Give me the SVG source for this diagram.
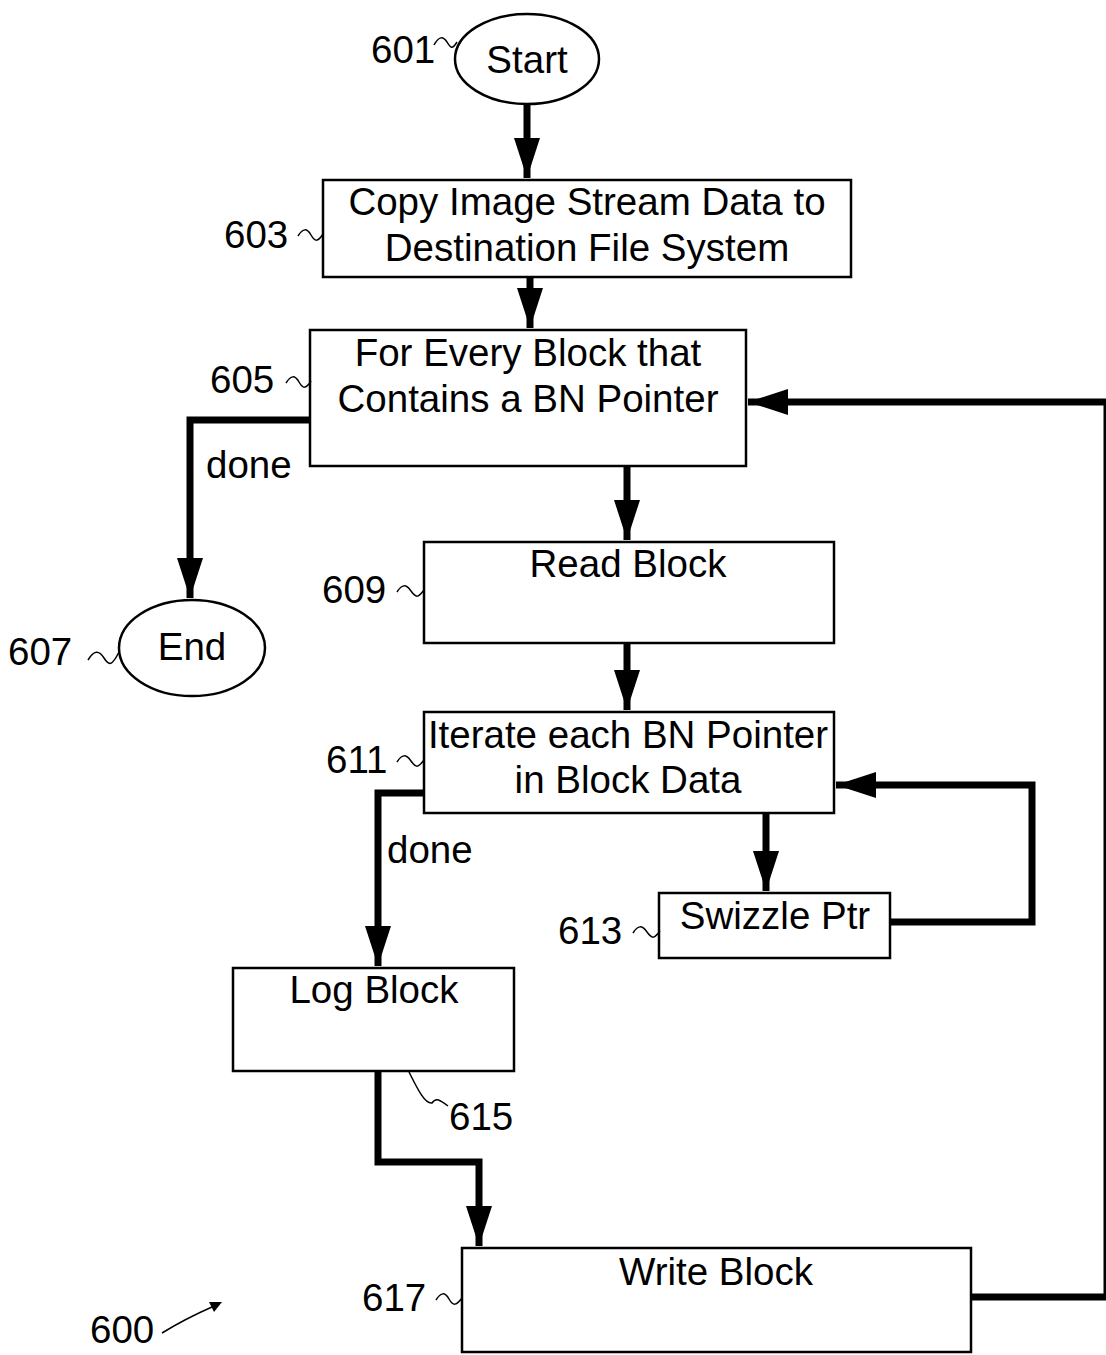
<svg xmlns="http://www.w3.org/2000/svg" width="1106" height="1355" viewBox="0 0 1106 1355">
<style>
.box{fill:#fff;stroke:#000;stroke-width:2.5}
.t{font-family:"Liberation Sans",Arial,sans-serif;font-size:38.5px;fill:#000;text-anchor:middle}
.lbl{font-family:"Liberation Sans",Arial,sans-serif;font-size:38.5px;fill:#000}
.c{fill:none;stroke:#000;stroke-width:7}
.lead{fill:none;stroke:#000;stroke-width:1.5}
</style>
<defs>
<marker id="ah" markerUnits="userSpaceOnUse" markerWidth="44" markerHeight="26" refX="40" refY="13" orient="auto">
<path d="M0,0 L40,13 L0,26 Z" fill="#000"/>
</marker>
</defs>
<rect width="1106" height="1355" fill="#fff"/>
<g id="connectors">
<path class="c" d="M527,105 V178" marker-end="url(#ah)"/>
<path class="c" d="M530,277 V328" marker-end="url(#ah)"/>
<path class="c" d="M310,420 H190 V598" marker-end="url(#ah)"/>
<path class="c" d="M627,466 V540" marker-end="url(#ah)"/>
<path class="c" d="M627,643 V710" marker-end="url(#ah)"/>
<path class="c" d="M424,793 H378 V966" marker-end="url(#ah)"/>
<path class="c" d="M766,813 V891" marker-end="url(#ah)"/>
<path class="c" d="M890,922 H1032 V785 H836" marker-end="url(#ah)"/>
<path class="c" d="M378,1071 V1162 H479 V1246" marker-end="url(#ah)"/>
<path class="c" d="M971,1297 H1107 V402 H748" marker-end="url(#ah)"/>
</g>
<g id="n601">
<ellipse cx="527" cy="59" rx="72" ry="45" fill="#fff" stroke="#000" stroke-width="2.5"/>
<text class="t" x="527" y="73">Start</text>
<text class="lbl" x="371" y="63">601</text>
<path class="lead" d="M434,45 C439,36 443,36 447,42 S452,50 457,42"/>
</g>
<g id="n603">
<rect class="box" x="323" y="180" width="528" height="97"/>
<text class="t" x="587" y="215">Copy Image Stream Data to</text>
<text class="t" x="587" y="261">Destination File System</text>
<text class="lbl" x="224" y="248">603</text>
<path class="lead" d="M298,236 C303,228 307,228 311,235 S318,242 323,234"/>
</g>
<g id="n605">
<rect class="box" x="310" y="330" width="436" height="136"/>
<text class="t" x="528" y="366">For Every Block that</text>
<text class="t" x="528" y="412">Contains a BN Pointer</text>
<text class="lbl" x="210" y="393">605</text>
<path class="lead" d="M286,383 C291,375 295,375 299,382 S306,389 311,381"/>
<text class="lbl" x="206" y="478">done</text>
</g>
<g id="n607">
<ellipse cx="192" cy="648" rx="73" ry="48" fill="#fff" stroke="#000" stroke-width="2.5"/>
<text class="t" x="192" y="660">End</text>
<text class="lbl" x="8" y="665">607</text>
<path class="lead" d="M88,660 C94,650 99,650 104,658 S112,666 119,652"/>
</g>
<g id="n609">
<rect class="box" x="424" y="542" width="410" height="101"/>
<text class="t" x="628" y="577">Read Block</text>
<text class="lbl" x="322" y="603">609</text>
<path class="lead" d="M397,592 C402,584 406,584 411,591 S418,598 424,590"/>
</g>
<g id="n611">
<rect class="box" x="424" y="712" width="410" height="101"/>
<text class="t" x="628" y="748">Iterate each BN Pointer</text>
<text class="t" x="628" y="793">in Block Data</text>
<text class="lbl" x="326" y="773">611</text>
<path class="lead" d="M397,762 C402,754 406,754 411,761 S418,768 424,760"/>
<text class="lbl" x="387" y="863">done</text>
</g>
<g id="n613">
<rect class="box" x="659" y="893" width="231" height="65"/>
<text class="t" x="775" y="929">Swizzle Ptr</text>
<text class="lbl" x="558" y="944">613</text>
<path class="lead" d="M633,933 C638,925 642,925 647,932 S654,939 660,931"/>
</g>
<g id="n615">
<rect class="box" x="233" y="968" width="281" height="103"/>
<text class="t" x="374" y="1003">Log Block</text>
<text class="lbl" x="449" y="1130">615</text>
<path class="lead" d="M409,1072 C418,1090 425,1104 432,1103 C436,1097 440,1100 448,1106"/>
</g>
<g id="n617">
<rect class="box" x="462" y="1248" width="509" height="104"/>
<text class="t" x="716" y="1285">Write Block</text>
<text class="lbl" x="362" y="1311">617</text>
<path class="lead" d="M436,1300 C441,1292 445,1292 449,1299 S456,1306 462,1298"/>
</g>
<g id="n600">
<text class="lbl" x="90" y="1343">600</text>
<path class="lead" d="M162,1333 C180,1322 196,1314 212,1307"/>
<path d="M222,1302 L209,1302 L214,1312 Z" fill="#000"/>
</g>
</svg>
